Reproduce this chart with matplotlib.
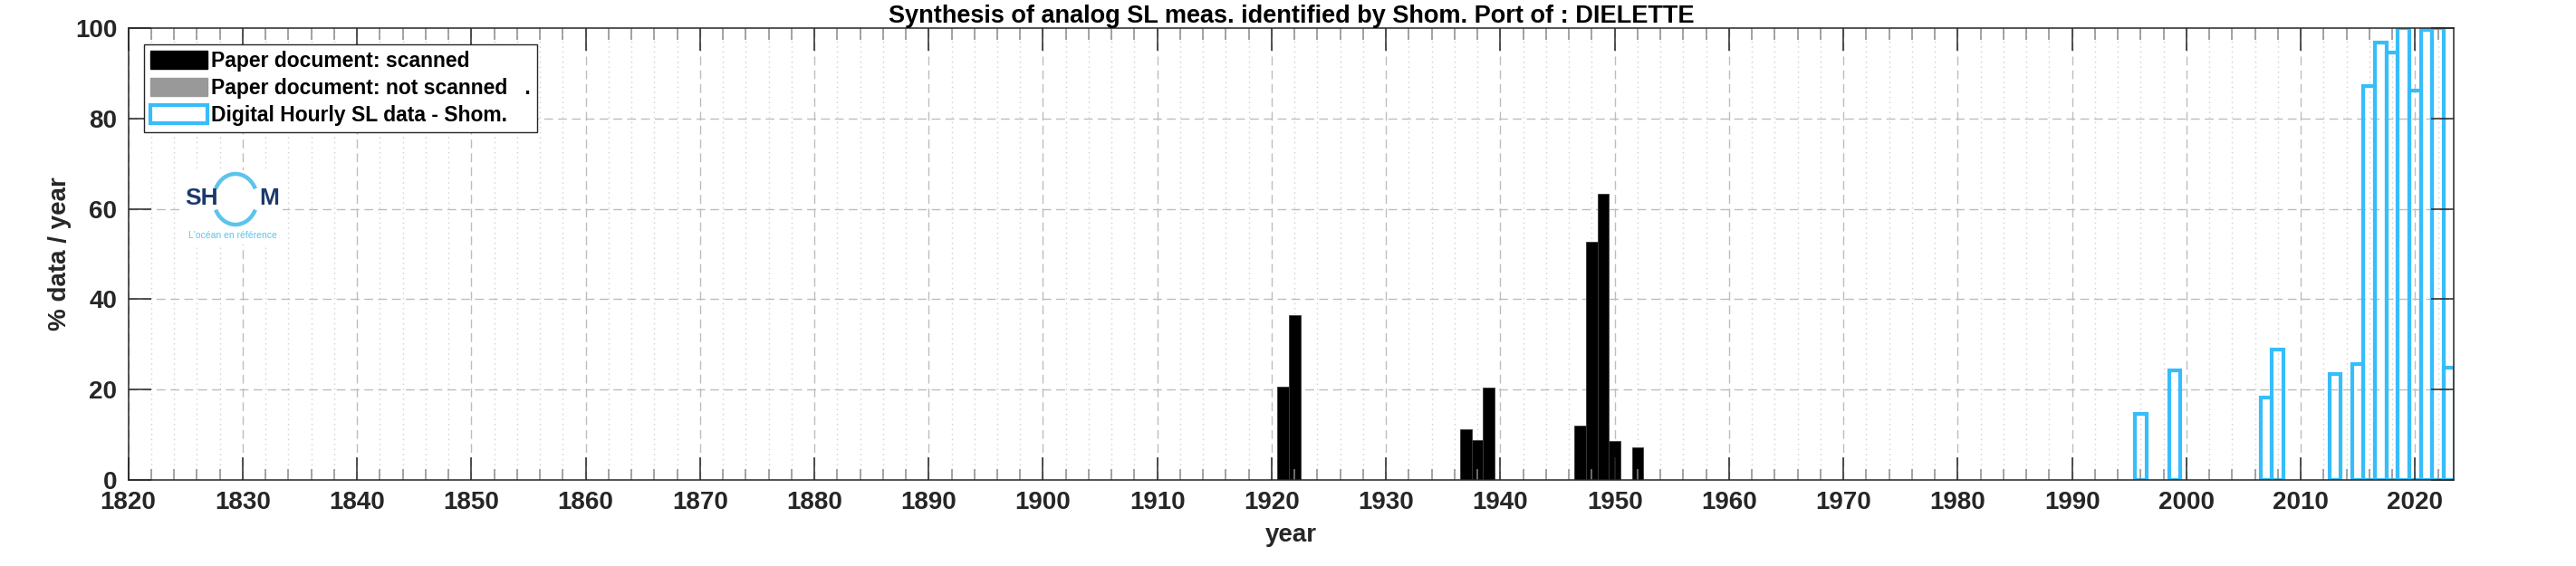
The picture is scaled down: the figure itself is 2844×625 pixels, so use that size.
import numpy as np
import matplotlib
matplotlib.use("Agg")
import matplotlib.pyplot as plt
from matplotlib.patches import Patch, Arc
from matplotlib.ticker import MultipleLocator

plt.rcParams['font.family'] = ['Liberation Sans', 'DejaVu Sans']

# données (% de données par année)
scanned_years = [1921, 1922, 1937, 1938, 1939, 1947, 1948, 1949, 1950, 1952]
scanned_pct = [20.7, 36.5, 11.3, 8.9, 20.4, 12.1, 52.8, 63.4, 8.6, 7.2]

digital_years = [1996, 1999, 2007, 2008, 2013, 2015, 2016, 2017, 2018, 2019,
                 2020, 2021, 2022, 2023]
digital_pct = [14.6, 24.2, 18.2, 28.8, 23.5, 25.7, 87.2, 96.7, 94.6, 100.0,
               86.2, 99.5, 100.0, 24.9]

legend_labels = ['Paper document: scanned',
                 'Paper document: not scanned   .',
                 'Digital Hourly SL data - Shom.']
port_name = 'DIELETTE'

BLUE = '#36BDFB'
DARK = '#262626'

fig = plt.figure(figsize=(28.44, 6.25), dpi=100)
ax = fig.add_axes([0.0498, 0.152, 0.9028, 0.7984])

x_min, x_max = 1820, 2023.4

# grille (sous les barres)
for x in np.arange(1820, 2024, 2):
    if x % 10 == 0:
        ax.axvline(x, color='#bdbdbd', lw=1.0, ls=(0, (7, 4)), zorder=0.5)
    else:
        ax.axvline(x, color='#d0d0d0', lw=1.0, ls=(0, (1, 3)), zorder=0.5)
for y in np.arange(20, 100, 20):
    ax.axhline(y, color='#bdbdbd', lw=1.0, ls=(0, (7, 4)), zorder=0.5)

ax.bar(scanned_years, scanned_pct, width=1.0, color='black',
       edgecolor='#3a3a3a', linewidth=0.6, zorder=1)
ax.bar(digital_years, digital_pct, width=1.0, facecolor='none',
       edgecolor=BLUE, linewidth=3.0, zorder=1.2)

ax.set_xlim(x_min, x_max)
ax.set_ylim(0, 100)
ax.xaxis.set_major_locator(MultipleLocator(10))
ax.xaxis.set_minor_locator(MultipleLocator(2))
ax.yaxis.set_major_locator(MultipleLocator(20))

ax.tick_params(which='major', direction='in', length=18, width=1.1,
               top=True, right=True, color=DARK, labelcolor=DARK,
               labelsize=20, pad=9)
ax.tick_params(which='minor', direction='in', length=9, width=1.1,
               top=True, right=True, color='#8a8a8a')
for lab in ax.get_xticklabels() + ax.get_yticklabels():
    lab.set_fontweight('bold')
for sp in ax.spines.values():
    sp.set_color(DARK)
    sp.set_linewidth(1.1)
    sp.set_zorder(3)

ax.set_xlabel('year', fontsize=20, fontweight='bold', color=DARK, labelpad=7)
ax.set_ylabel('% data / year', fontsize=20, fontweight='bold', color=DARK,
              labelpad=3)
ax.set_title('Synthesis of analog SL meas. identified by Shom. Port of : '
             + port_name, fontsize=19.5, fontweight='bold', pad=4)

handles = [Patch(facecolor='black', edgecolor='black'),
           Patch(facecolor='#999999', edgecolor='#999999'),
           Patch(facecolor='white', edgecolor=BLUE, linewidth=3.0)]
leg = ax.legend(handles, legend_labels, loc='upper left',
                bbox_to_anchor=(0.0067, 0.964), borderaxespad=0,
                prop={'weight': 'bold', 'size': 16.5},
                handlelength=2.75, handleheight=1.0, handletextpad=0.2,
                labelspacing=0.3, borderpad=0.3, fancybox=False,
                framealpha=1.0, edgecolor=DARK)
leg.get_frame().set_linewidth(1.0)
leg.set_zorder(5)

# logo Shom
lax = fig.add_axes([200 / 2844, (625 - 270) / 625, 112 / 2844, 82 / 625])
lax.set_xlim(0, 112)
lax.set_ylim(82, 0)
lax.axis('off')
lax.add_patch(plt.Rectangle((0, 0), 112, 82, color='white', zorder=0))
lax.text(4, 31, 'SH', fontsize=19, fontweight='bold', color='#1B3A6B',
         ha='left', va='center')
lax.text(108, 31, 'M', fontsize=19, fontweight='bold', color='#1B3A6B',
         ha='right', va='center')
lax.add_patch(Arc((60, 32), 48, 56, theta1=28, theta2=152, color='#5BC4EA', lw=3.2))
lax.add_patch(Arc((60, 32), 48, 56, theta1=208, theta2=332, color='#5BC4EA', lw=3.2))
lax.text(57, 72, "L'océan en référence", fontsize=7.5, color='#5BC4EA',
         ha='center', va='center')

fig.savefig('out.png', dpi=100)
